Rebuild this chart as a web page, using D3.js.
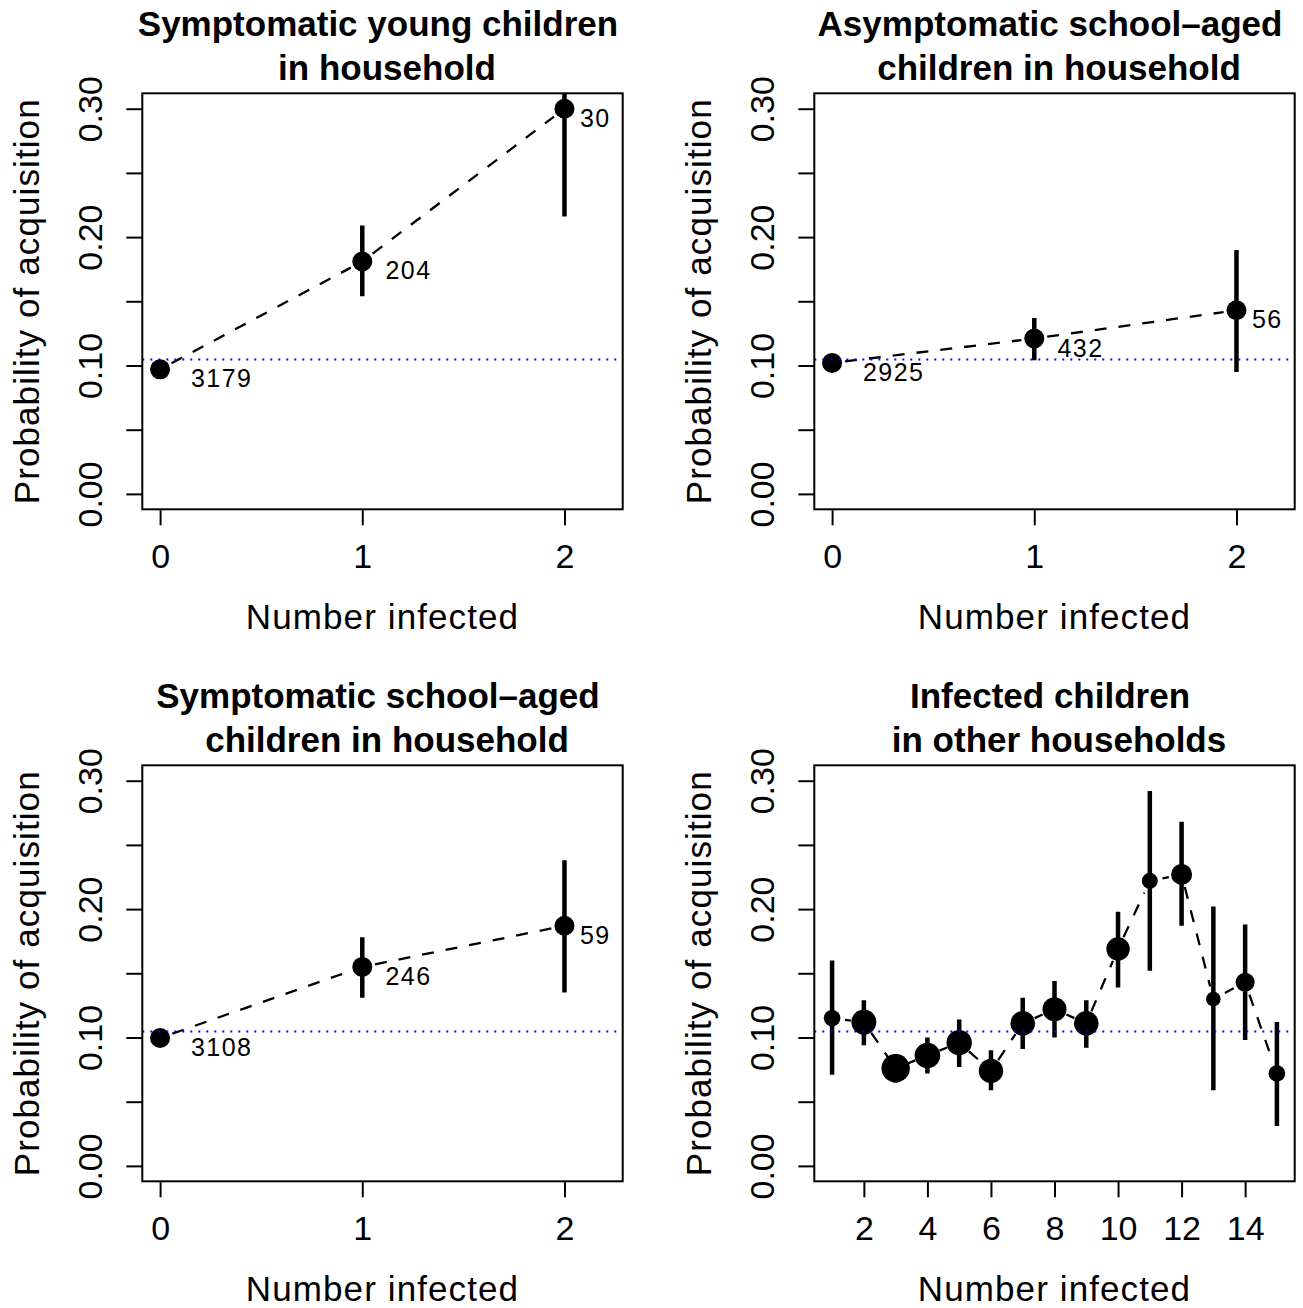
<!DOCTYPE html>
<html>
<head>
<meta charset="utf-8">
<script src="https://cdn.jsdelivr.net/npm/d3@7"></script>
<style>
  body { margin: 0; background: #fff; }
  text { font-family: "Liberation Sans", Arial, Helvetica, sans-serif; fill: #000; }
</style>
</head>
<body>
<div id="chart"></div>
<script>
const width = 1303;
const height = 1308;

// 数据：家庭内感染人数
const householdX = [0, 1, 2];

const youngSympEst = [0.097, 0.181, 0.300];
const youngSympLo  = [0.090, 0.154, 0.216];
const youngSympHi  = [0.104, 0.209, 0.390];
const youngSympN   = [3179, 204, 30];

const asympSchoolEst = [0.102, 0.121, 0.143];
const asympSchoolLo  = [0.096, 0.104, 0.095];
const asympSchoolHi  = [0.109, 0.137, 0.190];
const asympSchoolN   = [2925, 432, 56];

const sympSchoolEst = [0.0996, 0.155, 0.187];
const sympSchoolLo  = [0.093, 0.131, 0.135];
const sympSchoolHi  = [0.106, 0.178, 0.238];
const sympSchoolN   = [3108, 246, 59];

// 其他家庭的感染儿童
const otherX   = [1, 2, 3, 4, 5, 6, 7, 8, 9, 10, 11, 12, 13, 14, 15];
const otherEst = [0.115, 0.112, 0.076, 0.086, 0.096, 0.074, 0.111, 0.122, 0.111, 0.169, 0.222, 0.227, 0.130, 0.143, 0.072];
const otherLo  = [0.071, 0.094, 0.065, 0.072, 0.077, 0.059, 0.091, 0.100, 0.092, 0.139, 0.152, 0.187, 0.059, 0.098, 0.031];
const otherHi  = [0.160, 0.129, 0.087, 0.100, 0.114, 0.090, 0.131, 0.144, 0.129, 0.198, 0.292, 0.268, 0.202, 0.188, 0.112];
// relative marker weight (point cex)
const otherWeight = [0.83, 1.25, 1.42, 1.28, 1.27, 1.22, 1.23, 1.2, 1.23, 1.17, 0.8, 1.05, 0.73, 0.95, 0.83];

const baselineP = 0.1047;

const yTicks = [0, 0.05, 0.10, 0.15, 0.20, 0.25, 0.30];
const yTickLabels = ["0.00", "", "0.10", "", "0.20", "", "0.30"];
const householdTicks = [0, 1, 2];
const otherTicks = [2, 4, 6, 8, 10, 12, 14];

const titles = [
  ["Symptomatic young children", "in household"],
  ["Asymptomatic school\u2013aged", "children in household"],
  ["Symptomatic school\u2013aged", "children in household"],
  ["Infected children", "in other households"]
];

// 画布
const svg = d3.select("#chart")
  .append("svg")
  .attr("width", width)
  .attr("height", height);

svg.append("rect").attr("width", width).attr("height", height).attr("fill", "#fff");

const plot = { left: 142.3, right: 622.7, top: 93.3, bottom: 509.3 };
const weightToR = d3.scaleLinear().domain([0, 1]).range([0, 10]);

// R style 4% axis extension
function rLim(lo, hi) {
  const e = (hi - lo) * 0.04;
  return [lo - e, hi + e];
}

function drawPanel(cfg, idx) {
  const g = svg.append("g").attr("transform", `translate(${cfg.dx},${cfg.dy})`);

  const x = d3.scaleLinear().domain(cfg.xlim).range([plot.left, plot.right]);
  const y = d3.scaleLinear().domain(rLim(0, 0.3)).range([plot.bottom, plot.top]);

  g.append("clipPath").attr("id", "clip" + idx)
    .append("rect")
    .attr("x", plot.left).attr("y", plot.top)
    .attr("width", plot.right - plot.left).attr("height", plot.bottom - plot.top);

  const pg = g.append("g").attr("clip-path", `url(#clip${idx})`);

  // 虚线 (type = "b", gaps around points)
  const pts = cfg.xs.map((v, i) => [x(v), y(cfg.est[i])]);
  const gap = 13;
  d3.pairs(pts).forEach(([a, b]) => {
    const dx = b[0] - a[0], dy = b[1] - a[1];
    const L = Math.hypot(dx, dy);
    if (L <= 2 * gap) return;
    const ux = dx / L, uy = dy / L;
    pg.append("line")
      .attr("x1", a[0] + ux * gap).attr("y1", a[1] + uy * gap)
      .attr("x2", b[0] - ux * gap).attr("y2", b[1] - uy * gap)
      .attr("stroke", "#000")
      .attr("stroke-width", 2.3)
      .attr("stroke-dasharray", "12,12");
  });

  // 置信区间
  pg.selectAll("line.ci")
    .data(cfg.xs)
    .enter()
    .append("line")
    .attr("class", "ci")
    .attr("x1", d => x(d)).attr("x2", d => x(d))
    .attr("y1", (d, i) => y(cfg.lo[i]))
    .attr("y2", (d, i) => y(cfg.hi[i]))
    .attr("stroke", "#000")
    .attr("stroke-width", 4.5);

  // 点
  pg.selectAll("circle")
    .data(cfg.xs)
    .enter()
    .append("circle")
    .attr("cx", d => x(d))
    .attr("cy", (d, i) => y(cfg.est[i]))
    .attr("r", (d, i) => weightToR(cfg.weight ? cfg.weight[i] : 1))
    .attr("fill", "#000");

  // 样本量标签
  if (cfg.n) {
    cfg.xs.forEach((v, i) => {
      const t = g.append("text")
        .attr("y", y(cfg.est[i]) + 18)
        .style("font-size", "25px")
        .style("letter-spacing", "1.5px")
        .text(cfg.n[i]);
      const w = t.node().getComputedTextLength();
      t.attr("x", x(v) + 0.5 * w);
    });
  }

  // 基线
  pg.append("line")
    .attr("x1", plot.left).attr("x2", plot.right)
    .attr("y1", y(baselineP)).attr("y2", y(baselineP))
    .attr("stroke", "#0000ff")
    .attr("stroke-width", 2)
    .attr("stroke-dasharray", "2,6");

  // 坐标轴
  const yAxis = g.append("g")
    .attr("transform", `translate(${plot.left},0)`)
    .call(d3.axisLeft(y).tickValues(yTicks).tickSize(16).tickSizeOuter(0)
      .tickFormat((d, i) => yTickLabels[i]));
  yAxis.select(".domain").remove();
  yAxis.selectAll("line").attr("stroke", "#000").attr("stroke-width", 2);
  yAxis.selectAll("text")
    .attr("x", null).attr("dy", null)
    .attr("text-anchor", "middle")
    .attr("transform", "translate(-40.5,0) rotate(-90)")
    .style("font-size", "34px")
    .style("font-family", "'Liberation Sans', Arial, sans-serif");

  const xAxis = g.append("g")
    .attr("transform", `translate(0,${plot.bottom})`)
    .call(d3.axisBottom(x).tickValues(cfg.ticks).tickSize(16).tickSizeOuter(0)
      .tickFormat(d3.format("d")));
  xAxis.select(".domain").remove();
  xAxis.selectAll("line").attr("stroke", "#000").attr("stroke-width", 2);
  xAxis.selectAll("text")
    .attr("y", 59).attr("dy", null)
    .style("font-size", "34px")
    .style("font-family", "'Liberation Sans', Arial, sans-serif");

  // 边框
  g.append("rect")
    .attr("x", plot.left).attr("y", plot.top)
    .attr("width", plot.right - plot.left).attr("height", plot.bottom - plot.top)
    .attr("fill", "none")
    .attr("stroke", "#000")
    .attr("stroke-width", 2);

  // 标题
  const cx = (plot.left + plot.right) / 2;
  g.append("text")
    .attr("x", cx - 4.5).attr("y", 36)
    .attr("text-anchor", "middle")
    .style("font-size", "35px").style("font-weight", "bold")
    .text(cfg.title[0]);
  g.append("text")
    .attr("x", cx + 4.5).attr("y", 79.5)
    .attr("text-anchor", "middle")
    .style("font-size", "35px").style("font-weight", "bold")
    .text(cfg.title[1]);

  g.append("text")
    .attr("x", cx).attr("y", 629.3)
    .attr("text-anchor", "middle")
    .style("font-size", "35px")
    .style("letter-spacing", "1.1px")
    .text("Number infected");

  g.append("text")
    .attr("transform", `translate(39.3,${(plot.top + plot.bottom) / 2}) rotate(-90)`)
    .attr("text-anchor", "middle")
    .style("font-size", "35px")
    .style("letter-spacing", "1.1px")
    .text("Probability of acquisition");
}

const householdLim = rLim(0, 2.2);
const otherLim = rLim(1, 15);

drawPanel({ dx: 0, dy: 0, xlim: householdLim, xs: householdX, ticks: householdTicks,
  est: youngSympEst, lo: youngSympLo, hi: youngSympHi, n: youngSympN, title: titles[0] }, 0);
drawPanel({ dx: 672, dy: 0, xlim: householdLim, xs: householdX, ticks: householdTicks,
  est: asympSchoolEst, lo: asympSchoolLo, hi: asympSchoolHi, n: asympSchoolN, title: titles[1] }, 1);
drawPanel({ dx: 0, dy: 672, xlim: householdLim, xs: householdX, ticks: householdTicks,
  est: sympSchoolEst, lo: sympSchoolLo, hi: sympSchoolHi, n: sympSchoolN, title: titles[2] }, 2);
drawPanel({ dx: 672, dy: 672, xlim: otherLim, xs: otherX, ticks: otherTicks,
  est: otherEst, lo: otherLo, hi: otherHi, weight: otherWeight, title: titles[3] }, 3);
</script>
</body>
</html>
